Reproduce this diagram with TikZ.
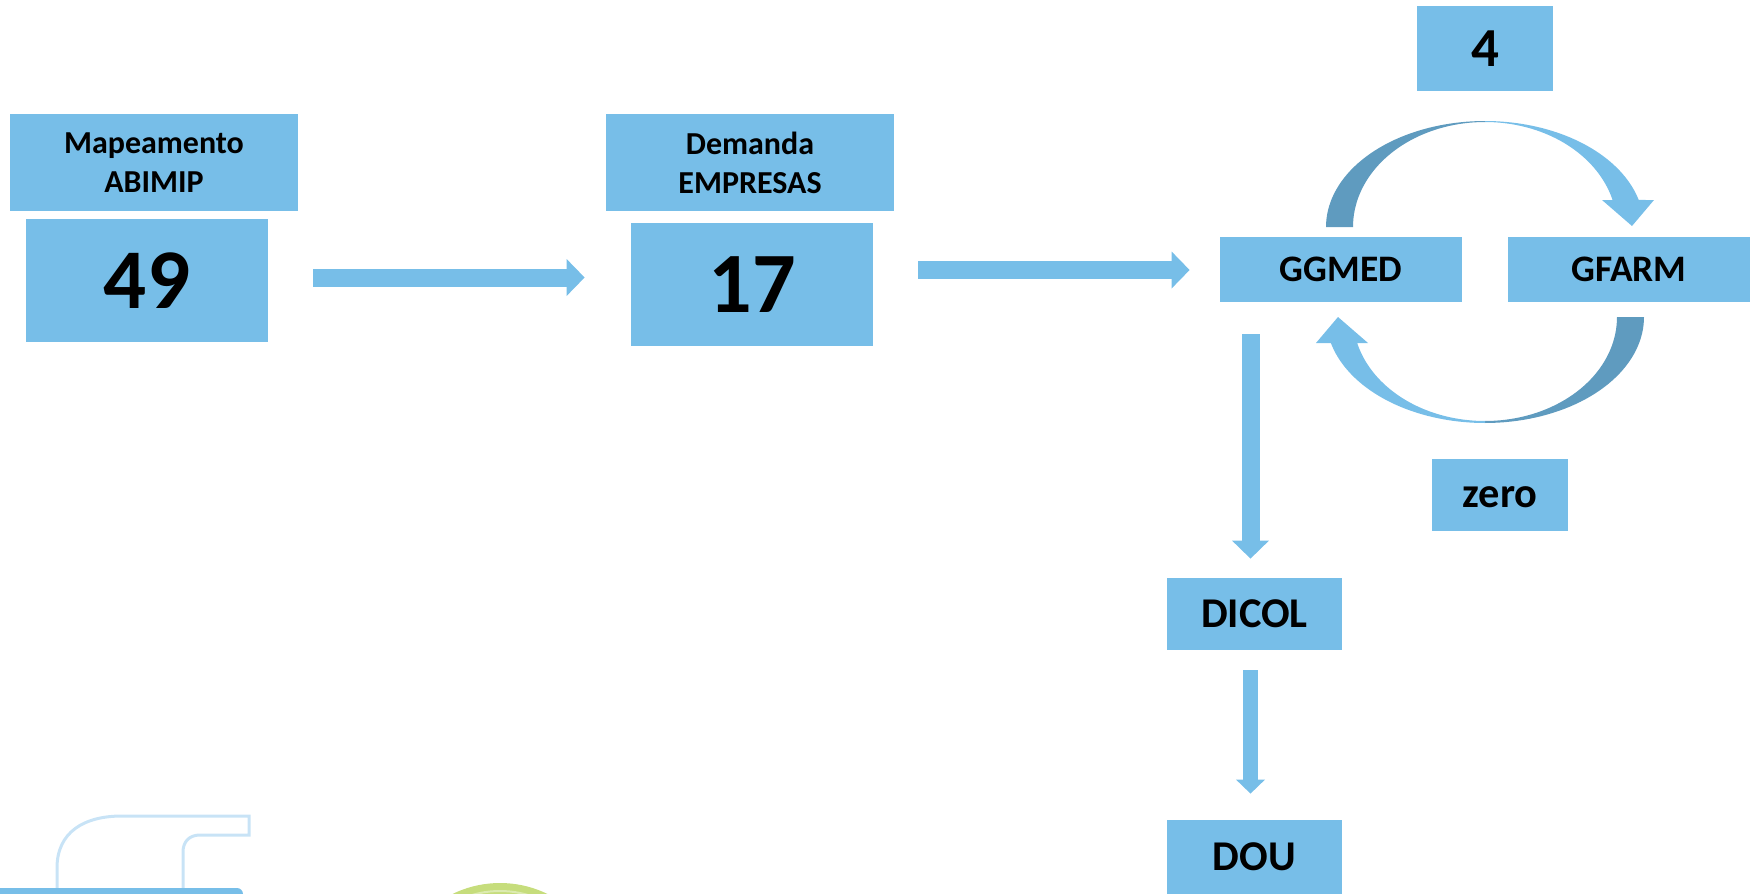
\documentclass[tikz,border=0pt]{standalone}
\usepackage{fontspec}
\setmainfont{Carlito}
\usetikzlibrary{arrows.meta}
\definecolor{boxblue}{HTML}{77BEE8}
\definecolor{darkarc}{HTML}{5F9BBF}
\definecolor{faucet}{HTML}{C8E3F6}
\definecolor{leafgreen}{HTML}{C6DD7C}
\definecolor{leaflight}{HTML}{DCEBB0}
\begin{document}
\begin{tikzpicture}[x=0.5pt,y=-0.5pt,
  box/.style={fill=boxblue, inner sep=0pt, text=black, align=center},
  blockarrow/.style={draw=boxblue, line width=9pt, -{Triangle[width=18.5pt,length=9pt,line width=0pt]}},
  thinarrow/.style={draw=boxblue, line width=7.5pt, -{Triangle[width=14.5pt,length=7pt,line width=0pt]}},
  logoline/.style={draw=faucet, line width=1.5pt},
]
\useasboundingbox (0,0) rectangle (1758,894);

% boxes
\node[box, minimum width=144pt, minimum height=48.5pt, font=\bfseries\fontsize{16}{19.5}\selectfont] (map) at (154,162.5) {Mapeamento\\ABIMIP};
\node[box, minimum width=121pt, minimum height=61.5pt, font=\bfseries\fontsize{42.5}{46}\selectfont] (n49) at (147,280.5) {49};
\node[box, minimum width=144pt, minimum height=48.5pt, font=\bfseries\fontsize{16}{19.5}\selectfont] (dem) at (750,162.5) {Demanda\\EMPRESAS};
\node[box, minimum width=121pt, minimum height=61.5pt, font=\bfseries\fontsize{43}{46}\selectfont] (n17) at (752,284.5) {17};
\node[box, minimum width=68pt, minimum height=42.5pt, font=\bfseries\fontsize{27.5}{30}\selectfont] (four) at (1485,48.5) {4};
\node[box, minimum width=121pt, minimum height=32.5pt, font=\bfseries\fontsize{18.7}{21}\selectfont] (ggmed) at (1341,269.5) {GGMED};
\node[box, minimum width=121pt, minimum height=32.5pt, font=\bfseries\fontsize{18.7}{21}\selectfont] (gfarm) at (1629,269.5) {GFARM};
\node[box, minimum width=68pt, minimum height=36pt, text height=12pt, text depth=0pt, font=\bfseries\fontsize{21.2}{24}\selectfont] (zero) at (1500,495) {zero};
\node[box, minimum width=87.5pt, minimum height=36pt, font=\bfseries\fontsize{21.2}{24}\selectfont] (dicol) at (1254.5,614) {DICOL};
\node[box, minimum width=87.5pt, minimum height=37pt, font=\bfseries\fontsize{21.2}{24}\selectfont] (dou) at (1254.5,857) {DOU};

% straight arrows
\draw[blockarrow] ([xshift=22.5pt,yshift=1.5pt]n49.east) -- ([xshift=-23pt,yshift=3.5pt]n17.west);
\draw[blockarrow] ([xshift=22.5pt,yshift=7.25pt]n17.east) -- ([xshift=-15pt,yshift=-0.25pt]ggmed.west);
\draw[blockarrow] ([xshift=-45.25pt,yshift=-16pt]ggmed.south) -- ([xshift=-2pt,yshift=9.5pt]dicol.north);
\draw[thinarrow] ([xshift=-2pt,yshift=-10pt]dicol.south) -- ([xshift=-2pt,yshift=13pt]dou.north);

% curved arrow GGMED -> GFARM (top)
\fill[darkarc] plot[domain=180:270, samples=40] ({1485+159*cos(\x)},{227+106*sin(\x)})
  -- plot[domain=270:180, samples=40] ({1485+132*cos(\x)},{227+105*sin(\x)}) -- cycle;
\fill[boxblue] plot[domain=270:345.24, samples=40] ({1485+159*cos(\x)},{227+106*sin(\x)})
  -- (1654,200) -- (1632,226) -- (1602,200)
  -- plot[domain=345.1:270, samples=40] ({1485+132*cos(\x)},{227+105*sin(\x)}) -- cycle;

% curved arrow GFARM -> GGMED (bottom)
\fill[darkarc] plot[domain=0:90, samples=40] ({1485+159*cos(\x)},{317+106*sin(\x)})
  -- plot[domain=90:0, samples=40] ({1485+132*cos(\x)},{317+104*sin(\x)}) -- cycle;
\fill[boxblue] plot[domain=90:165.8, samples=40] ({1485+159*cos(\x)},{317+106*sin(\x)})
  -- (1316,343) -- (1338,317) -- (1368,343)
  -- plot[domain=165.5:90, samples=40] ({1485+132*cos(\x)},{317+104*sin(\x)}) -- cycle;

% partial logos at the bottom edge
\draw[logoline] (57,888) -- (57,868) .. controls (57,832) and (84,816) .. (122,816)
  -- (249,816) -- (249,835) -- (200,835) .. controls (189,835) and (183,842) .. (183,852) -- (183,888);
\fill[boxblue, rounded corners=3pt] (-20,888) rectangle (243,930);
\fill[leafgreen] (500,991) circle[radius=108];
\draw[leaflight, line width=1pt] (500,991) circle[radius=100];
\end{tikzpicture}
\end{document}
